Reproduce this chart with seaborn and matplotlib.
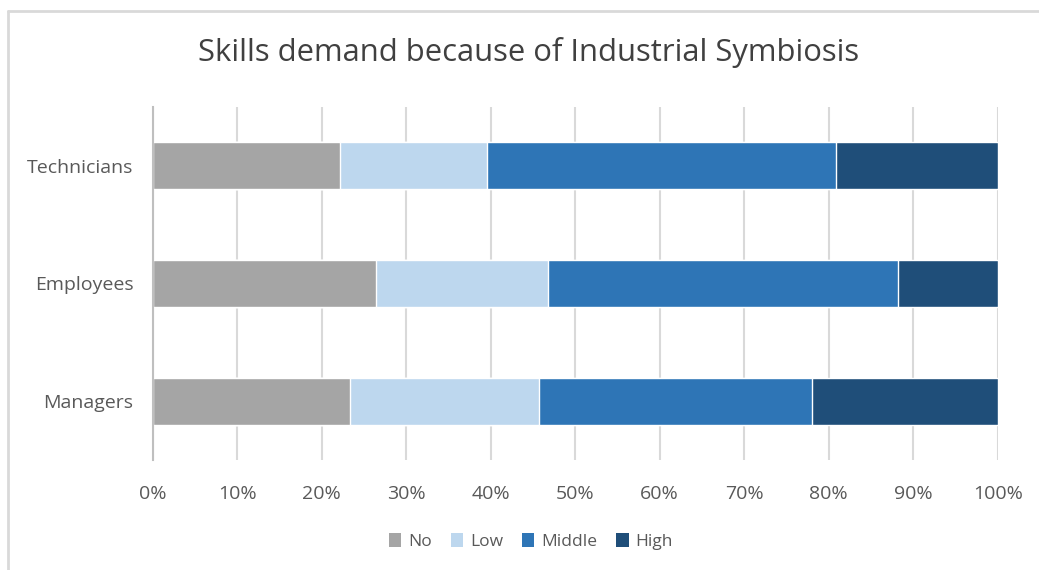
import matplotlib
matplotlib.use("Agg")
import matplotlib.pyplot as plt
import seaborn as sns
import pandas as pd
import numpy as np
from matplotlib.patches import Patch
from matplotlib.lines import Line2D
from matplotlib.ticker import PercentFormatter

# Share of respondents (%) per skills-demand level
groups = ["Technicians", "Employees", "Managers"]
levels = ["No", "Low", "Middle", "High"]
no_vals = [22.2, 26.4, 23.4]
low_vals = [17.4, 20.4, 22.3]
middle_vals = [41.3, 41.4, 32.3]
high_vals = [19.1, 11.8, 22.0]
colors = ["#A5A5A5", "#BDD7EE", "#2E75B6", "#1F4E79"]

title = "Skills demand because of Industrial Symbiosis"
text_color = "#595959"
grid_color = "#D9D9D9"

sns.set_theme(style="white")
plt.rcParams["font.family"] = ["Open Sans", "DejaVu Sans"]

df = pd.DataFrame({"group": groups, "No": no_vals, "Low": low_vals,
                   "Middle": middle_vals, "High": high_vals})
cum = df[levels].cumsum(axis=1)

fig = plt.figure(figsize=(10.39, 5.70), dpi=100)
ax = fig.add_axes([0.147, 0.193, 0.8133, 0.6198])

# Stack by drawing cumulative totals from the outermost segment inward
for level, color in reversed(list(zip(levels, colors))):
    sns.barplot(x=cum[level], y=df["group"], order=groups, orient="h",
                color=color, width=0.4, ax=ax, saturation=1, zorder=3)

ax.set_xlim(0, 100)
ax.set_ylim(2.5, -0.5)
ax.set_xticks(np.arange(0, 101, 10))
ax.xaxis.set_major_formatter(PercentFormatter(decimals=0))
ax.set_xlabel("")
ax.set_ylabel("")
ax.grid(axis="x", color=grid_color, linewidth=1.5, zorder=0)
ax.grid(axis="y", visible=False)
for side in ["top", "right", "bottom"]:
    ax.spines[side].set_visible(False)
ax.spines["left"].set_color("#BFBFBF")
ax.spines["left"].set_linewidth(1.5)
ax.spines["left"].set_zorder(4)
ax.tick_params(axis="both", length=0, labelsize=14, labelcolor=text_color)
ax.tick_params(axis="x", pad=18)
ax.tick_params(axis="y", pad=14)

fig.text(0.5087, 0.908, title, ha="center", va="center",
         fontsize=22.3, color="#404040")

handles = [Patch(facecolor=c, edgecolor="none", label=l)
           for l, c in zip(levels, colors)]
fig.legend(handles=handles, loc="center", bbox_to_anchor=(0.511, 0.050),
           ncol=4, frameon=False, fontsize=12.5, labelcolor=text_color,
           handlelength=0.7, handleheight=0.9, handletextpad=0.4,
           columnspacing=1.1)

# Chart-area border lines along the left and top edges
fig.add_artist(Line2D([0.0077, 0.0077], [0.0, 0.981], transform=fig.transFigure,
                      color=grid_color, linewidth=2))
fig.add_artist(Line2D([0.0077, 1.0], [0.981, 0.981], transform=fig.transFigure,
                      color=grid_color, linewidth=2))

fig.savefig("out.png", dpi=100, facecolor="white")
